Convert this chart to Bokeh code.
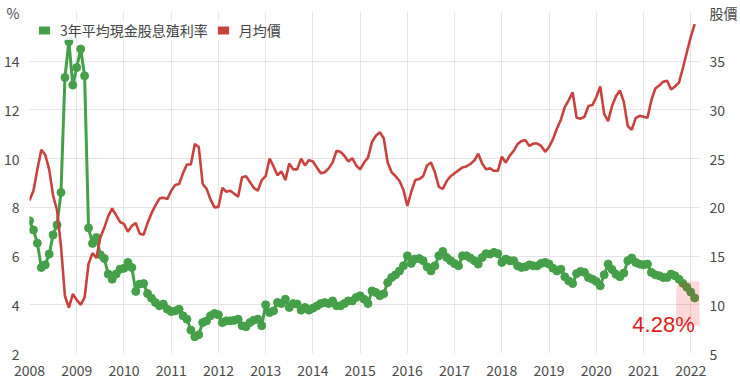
from bokeh.plotting import figure
from bokeh.models import (Range1d, LinearAxis, FixedTicker, Legend, LegendItem,
                          Label, BoxAnnotation)
from bokeh.embed import file_html
from bokeh.resources import INLINE

# ---------------- data ----------------
start_year = 2008
year_ticks = list(range(2008, 2023))
yield_ticks = [2, 4, 6, 8, 10, 12, 14, 16]
price_ticks = [5, 10, 15, 20, 25, 30, 35, 40]
yield_axis_title = "%"
price_axis_title = "股價"

series_yield_name = "3年平均現金股息殖利率"
series_price_name = "月均價"

# 3-year average cash dividend yield (%), monthly from Jan 2008
yield_pct = [
    7.45, 7.07, 6.53, 5.53, 5.64, 6.08, 6.87, 7.28, 8.61, 13.33, 14.8, 13.02,
    13.74, 14.5, 13.4, 7.15, 6.52, 6.76, 6.05, 5.9, 5.26, 5.05, 5.26, 5.46,
    5.5, 5.74, 5.53, 4.55, 4.85, 4.87, 4.46, 4.27, 4.09, 3.96, 4.03, 3.82,
    3.72, 3.75, 3.82, 3.55, 3.41, 2.96, 2.69, 2.77, 3.27, 3.34, 3.55, 3.64,
    3.59, 3.27, 3.34, 3.34, 3.36, 3.41, 3.14, 3.10, 3.27, 3.37, 3.41, 3.14,
    4.0, 3.68, 3.75, 4.09, 4.05, 4.23, 3.89, 4.05, 4.03, 3.78, 3.89, 3.78,
    3.86, 3.95, 4.05, 4.09, 4.05, 4.16, 3.96, 3.96, 4.05, 4.16, 4.16, 4.30,
    4.37, 4.23, 4.05, 4.57, 4.50, 4.37, 4.45, 4.91, 5.12, 5.23, 5.39, 5.60,
    6.01, 5.70, 5.88, 5.90, 5.81, 5.56, 5.39, 5.60, 6.01, 6.19, 5.94, 5.81,
    5.69, 5.60, 6.01, 6.01, 5.92, 5.81, 5.67, 5.94, 6.10, 6.08, 6.15, 6.10,
    5.74, 5.88, 5.81, 5.81, 5.60, 5.53, 5.56, 5.64, 5.60, 5.60, 5.70, 5.74,
    5.67, 5.50, 5.39, 5.46, 5.15, 4.98, 4.87, 5.28, 5.37, 5.33, 5.12, 5.05,
    4.96, 4.78, 5.23, 5.67, 5.45, 5.25, 5.15, 5.30, 5.81, 5.92, 5.74, 5.67,
    5.64, 5.67, 5.33, 5.23, 5.19, 5.12, 5.12, 5.26, 5.19, 5.05, 4.88, 4.72,
    4.52, 4.28,
]

# monthly average price, monthly from Jan 2008
price = [
    20.7, 21.7, 23.9, 25.9, 25.4, 23.9, 21.2, 19.7, 16.0, 10.9, 9.7, 11.1,
    10.5, 10.0, 10.75, 14.2, 15.3, 14.8, 16.9, 17.9, 19.1, 19.9, 19.2, 18.5,
    18.3, 17.5, 18.1, 18.4, 17.3, 17.2, 18.4, 19.4, 20.2, 20.9, 21.0, 20.85,
    21.7, 22.3, 22.4, 23.5, 24.4, 24.4, 26.5, 26.2, 22.4, 21.9, 20.8, 20.0,
    20.05, 22.0, 21.6, 21.7, 21.4, 21.1, 23.1, 23.2, 22.6, 22.0, 21.7, 22.8,
    23.2, 25.0, 24.2, 23.3, 23.7, 22.8, 24.5, 23.9, 23.9, 25.0, 24.3, 24.85,
    24.7, 24.1, 23.5, 23.6, 24.0, 24.6, 25.8, 25.7, 25.3, 24.7, 25.05, 24.3,
    23.9, 24.6, 25.1, 26.7, 27.35, 27.7, 27.1, 24.6, 23.6, 23.2, 22.7, 21.8,
    20.15, 21.6, 22.8, 22.9, 23.2, 24.3, 24.6, 23.6, 22.1, 21.9, 22.7, 23.2,
    23.5, 23.8, 24.1, 24.2, 24.45, 24.8, 25.5, 24.5, 23.9, 24.0, 23.75, 23.75,
    25.2, 24.6, 25.3, 25.8, 26.5, 26.8, 26.9, 26.3, 26.55, 26.55, 26.3, 25.7,
    26.2, 27.0, 28.1, 29.0, 30.3, 31.0, 31.8, 29.2, 29.1, 29.3, 30.4, 30.5,
    31.3, 32.4, 29.6, 28.85, 30.4, 31.4, 32.0, 30.8, 28.35, 27.95, 29.15, 29.4,
    29.3, 29.2, 31.0, 32.2, 32.5, 32.9, 33.0, 32.1, 32.4, 32.8, 34.3, 35.9,
    37.5, 38.8,
]

months = list(range(len(price)))
x = [start_year + m / 12 for m in months]

# ---------------- style ----------------
GREEN = "#45a049"
RED = "#c8423f"
NUM_FONT = "Liberation Sans"
CJK_FONT = "Noto Sans CJK TC"
X_END = 2022.185

p = figure(width=740, height=387, output_backend="svg", toolbar_location=None,
           x_range=Range1d(start_year, X_END), y_range=Range1d(2, 16),
           min_border_left=28, min_border_right=40, min_border_top=12,
           min_border_bottom=34)
p.extra_y_ranges = {"price": Range1d(5, 40)}
p.outline_line_color = None
p.background_fill_color = "white"

# grids
p.xgrid.ticker = FixedTicker(ticks=year_ticks)
p.ygrid.ticker = FixedTicker(ticks=yield_ticks)
for g in (p.xgrid, p.ygrid):
    g.grid_line_color = "#e4e4e4"
    g.grid_line_width = 1


def style_axis(ax):
    ax.axis_line_color = None
    ax.major_tick_line_color = None
    ax.minor_tick_line_color = None
    ax.major_tick_out = 0
    ax.major_tick_in = 0
    ax.major_label_text_font = CJK_FONT
    ax.major_label_text_font_size = "14px"
    ax.major_label_text_color = "#4a4a4a"


p.xaxis.ticker = FixedTicker(ticks=year_ticks)
style_axis(p.xaxis[0])
p.xaxis.major_label_standoff = 11

p.yaxis.ticker = FixedTicker(ticks=yield_ticks)
style_axis(p.yaxis[0])
p.yaxis.major_label_standoff = 10
p.yaxis.major_label_overrides = {yield_ticks[-1]: yield_axis_title}

right_axis = LinearAxis(y_range_name="price", ticker=FixedTicker(ticks=price_ticks))
style_axis(right_axis)
right_axis.major_label_standoff = 10
right_axis.major_label_overrides = {price_ticks[-1]: price_axis_title}
p.add_layout(right_axis, "right")

# series
p.line(x, yield_pct, line_color=GREEN, line_width=3)
p.scatter(x, yield_pct, size=8, fill_color=GREEN, line_color=GREEN)
p.line(x, price, y_range_name="price", line_color=RED, line_width=2.6)

# legend swatches: zero-area quads on the first data point (invisible in plot)
sw_g = p.quad(left=x[:1], right=x[:1], top=yield_pct[:1], bottom=yield_pct[:1],
              fill_color=GREEN, line_color=None)
sw_r = p.quad(left=x[:1], right=x[:1], top=price[:1], bottom=price[:1],
              y_range_name="price", fill_color=RED, line_color=None)
legend = Legend(items=[LegendItem(label=series_yield_name, renderers=[sw_g]),
                       LegendItem(label=series_price_name, renderers=[sw_r])],
                orientation="horizontal", location="top_left", margin=8,
                padding=10, spacing=8, label_standoff=9, glyph_width=14,
                glyph_height=10, label_height=10,
                label_text_font=CJK_FONT, label_text_font_size="14px",
                label_text_color="#444444", background_fill_color="white",
                background_fill_alpha=0.8, border_line_color=None)
p.add_layout(legend)

# highlight of last value
p.add_layout(BoxAnnotation(left=2021.69, right=2022.46, bottom=3.14, top=4.96,
                           fill_color="red", fill_alpha=0.15, line_color=None,
                           border_radius=8))
p.add_layout(Label(x=x[-1], y=3.2, text=f"{yield_pct[-1]:.2f}%",
                   text_align="right", text_baseline="middle",
                   text_font=NUM_FONT, text_font_size="22px", text_color="#e01b1b"))

open("out.html", "w").write(file_html(p, INLINE))
